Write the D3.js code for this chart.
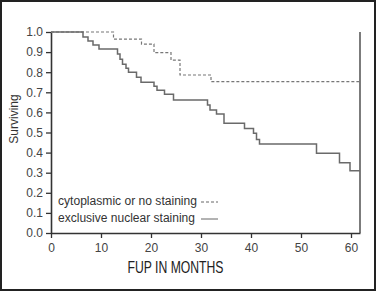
<!DOCTYPE html>
<html>
<head>
<meta charset="utf-8">
<script src="https://cdn.jsdelivr.net/npm/d3@7"></script>
<style>
  body { margin: 0; background: #fff; }
  svg text { font-family: "Liberation Sans", Arial, sans-serif; }
</style>
</head>
<body>
<div id="chart"></div>
<script>
// Kaplan-Meier steps (month of drop, survival after drop)
const nuclearTimes = [6.4, 7.4, 8.4, 9.6, 13.3, 13.8, 14.3, 15.0, 15.5, 17.1, 18.0, 20.6, 21.2, 22.7, 24.5,
                      31.3, 31.8, 33.1, 34.6, 38.7, 40.5, 41.1, 41.7, 53.1, 57.7, 59.8];
const nuclearSurv  = [0.975, 0.955, 0.935, 0.915, 0.89, 0.865, 0.84, 0.82, 0.80, 0.775, 0.75, 0.73, 0.71, 0.69, 0.662,
                      0.637, 0.612, 0.592, 0.546, 0.52, 0.496, 0.465, 0.443, 0.397, 0.35, 0.31];
const cytoTimes = [12.5, 18.1, 20.6, 24.0, 25.8, 32.0];
const cytoSurv  = [0.965, 0.94, 0.897, 0.86, 0.786, 0.753];
const endTime = 61.8;

const yTicks = [0, 0.1, 0.2, 0.3, 0.4, 0.5, 0.6, 0.7, 0.8, 0.9, 1.0];
const xTicks = [0, 10, 20, 30, 40, 50, 60];
const legendLabels = ["cytoplasmic or no staining", "exclusive nuclear staining"];

var W = 377, H = 292;
var svg = d3.select("#chart").append("svg")
  .attr("width", W).attr("height", H);

// outer frame
svg.append("rect")
  .attr("x", 1).attr("y", 1).attr("width", 374).attr("height", 289)
  .attr("fill", "none").attr("stroke", "#222").attr("stroke-width", 2);

var x = d3.scaleLinear().domain([0, endTime]).range([51, 360]);
var y = d3.scaleLinear().domain([0, 1]).range([233, 32]);

// build step points
function steps(times, surv) {
  var pts = [[0, 1]];
  times.forEach(function (t, i) { pts.push([t, surv[i]]); });
  pts.push([endTime, surv[surv.length - 1]]);
  return pts;
}

var line = d3.line()
  .x(function (d) { return x(d[0]); })
  .y(function (d) { return y(d[1]); })
  .curve(d3.curveStepAfter);

// Y axis
var yAxis = svg.append("g")
  .attr("transform", "translate(" + x(0) + ",0)")
  .call(d3.axisLeft(y).tickValues(yTicks).tickFormat(d3.format(".1f")).tickSize(5).tickSizeOuter(0).tickPadding(3));
// X axis
var xAxis = svg.append("g")
  .attr("transform", "translate(0," + y(0) + ")")
  .call(d3.axisBottom(x).tickValues(xTicks).tickSize(5).tickSizeOuter(0).tickPadding(5));

[yAxis, xAxis].forEach(function (g) {
  g.select(".domain").attr("stroke", "#333").attr("stroke-width", 1.6);
  g.selectAll(".tick line").attr("stroke", "#333").attr("stroke-width", 1.3);
  g.selectAll(".tick text").attr("fill", "#444").style("font-size", "12px")
    .style("font-family", "'Liberation Sans', Arial, sans-serif");
});

// right frame line
svg.append("line")
  .attr("x1", x(endTime)).attr("x2", x(endTime))
  .attr("y1", y(1)).attr("y2", y(0))
  .attr("stroke", "#444").attr("stroke-width", 1.4);

// curves
svg.append("path")
  .datum(steps(cytoTimes, cytoSurv))
  .attr("d", line)
  .attr("fill", "none").attr("stroke", "#777").attr("stroke-width", 1.2)
  .attr("stroke-dasharray", "3,2");

svg.append("path")
  .datum(steps(nuclearTimes, nuclearSurv))
  .attr("d", line)
  .attr("fill", "none").attr("stroke", "#6a6a6a").attr("stroke-width", 1.5);

// legend
var legend = svg.selectAll(".lg").data(legendLabels).enter().append("g")
  .attr("class", "lg")
  .attr("transform", function (d, i) { return "translate(58," + (205 + i * 17) + ")"; });
legend.append("text")
  .text(function (d) { return d; })
  .attr("fill", "#333").style("font-size", "12px")
  .attr("textLength", function (d, i) { return i === 0 ? 139 : 137; })
  .attr("lengthAdjust", "spacingAndGlyphs");
legend.append("line")
  .attr("x1", 143).attr("x2", 160).attr("y1", -3).attr("y2", -3)
  .attr("stroke", "#666").attr("stroke-width", 1)
  .attr("stroke-dasharray", function (d, i) { return i === 0 ? "3,2" : null; });

// axis titles
svg.append("text")
  .attr("transform", "translate(18,119) rotate(-90)")
  .attr("text-anchor", "middle")
  .attr("fill", "#333").style("font-size", "12px")
  .text("Surviving");

svg.append("text")
  .attr("x", 175.5).attr("y", 273)
  .attr("text-anchor", "middle")
  .attr("fill", "#222").style("font-size", "16.5px")
  .attr("textLength", 96).attr("lengthAdjust", "spacingAndGlyphs")
  .text("FUP IN MONTHS");
</script>
</body>
</html>
